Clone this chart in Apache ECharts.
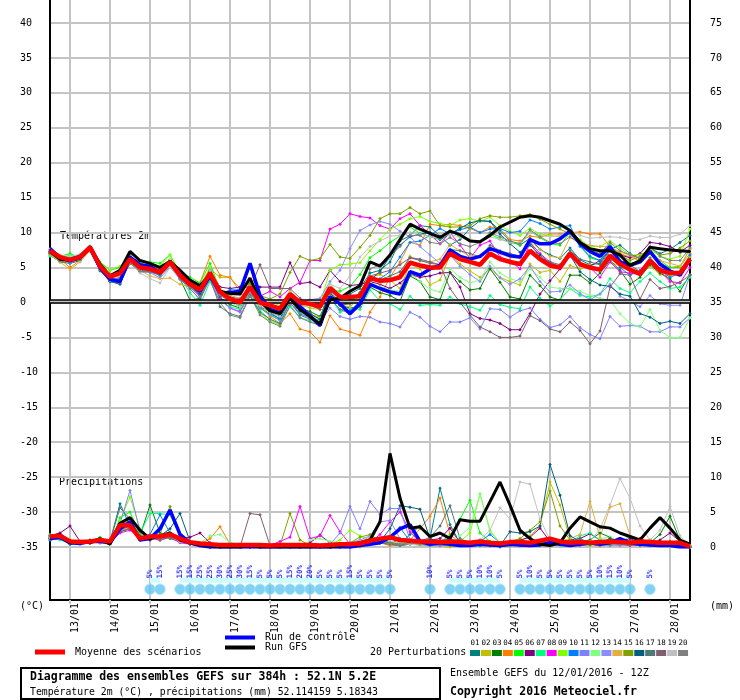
<!DOCTYPE html>
<html><head><meta charset="utf-8">
<script src="https://cdn.jsdelivr.net/npm/echarts@6/dist/echarts.min.js"></script>
<style>html,body{margin:0;padding:0;background:#fff}#c{width:740px;height:700px}</style>
</head><body><div id="c"></div>
<script>
// ---- time axis: 6-hourly steps from 12/01 12Z to 28/01 12Z (384h)
const startDay = 12, startHour = 12, stepH = 6, nSteps = 65;
const cats = [];
for (let k = 0; k < nSteps; k++) { const h = startHour + k * stepH; cats.push(String(startDay + Math.floor(h / 24)).padStart(2, '0') + '/01'); }

// ---- temperature 2m (°C)
const tMean = [7.4,6.5,6.1,6.5,7.9,5.2,3.7,4.2, 6.2,5.0,4.8,4.3,5.8,3.9,2.6,1.8, 4.2,1.5,0.5,0.0,2.2,0.0,-0.4,-0.9, 1.2,0.0,-0.2,-0.6,2.1,0.8,0.8,0.9, 3.5,3.1,3.2,3.6,5.7,5.3,5.0,5.0, 7.0,6.2,5.8,5.4,7.0,6.2,5.8,5.5, 7.4,6.2,5.3,5.0,7.0,5.5,5.0,4.7, 6.7,5.5,4.7,4.1,6.0,4.6,4.2,4.2, 6.2];
const tControl = [7.7,6.4,6.0,6.4,7.8,5.0,3.3,3.0, 6.5,5.4,5.2,4.2,5.8,4.0,2.8,1.6, 3.8,1.4,1.4,1.6,5.6,1.0,-1.0,-1.5, 1.0,-0.6,-1.9,-3.3,0.8,-0.2,-1.6,-0.2, 2.6,2.0,1.5,1.2,4.4,3.9,4.8,5.3, 7.5,6.6,6.2,6.6,7.7,7.2,6.7,6.5, 9.0,8.4,8.4,9.1,10.2,8.4,7.3,6.6, 8.0,5.8,5.3,5.8,7.3,5.5,4.5,3.9, 6.2];
const tGFS = [7.3,6.2,6.1,6.6,8.0,5.5,3.8,4.6, 7.3,6.0,5.6,5.0,5.9,4.6,3.2,2.4, 4.0,1.6,1.3,1.2,3.5,0.2,-1.2,-1.6, 0.6,-1.0,-2.0,-3.1,0.4,0.6,1.6,2.4, 5.8,5.2,6.8,9.0,11.2,10.5,9.9,9.3, 10.2,9.7,8.8,8.7,9.6,10.8,11.5,12.2, 12.4,12.2,11.7,11.2,10.3,8.6,7.7,7.4, 7.4,6.8,5.3,6.0,7.9,7.7,7.5,7.4, 7.3];
const t01 = [7.0,6.0,6.3,6.6,7.6,4.5,3.3,3.5, 6.0,5.2,5.0,4.0,6.0,3.6,2.2,1.0, 4.4,1.0,0.2,-0.5,2.8,-0.6,-1.3,-2.0, 0.8,-1.0,-1.6,-2.4,2.0,0.5,1.2,2.0, 4.2,4.6,5.8,8.8,9.6,11.0,10.8,9.5, 8.2,9.0,10.6,11.7,11.6,10.3,8.8,8.2, 9.2,7.6,6.8,6.3,7.8,6.1,5.4,5.6, 7.6,8.2,7.0,6.2,7.8,7.0,7.6,8.6, 9.6];
const t02 = [7.2,6.3,5.9,6.3,7.5,5.0,3.6,3.9, 5.8,4.6,4.5,3.8,5.2,4.2,3.0,2.2, 4.8,3.6,3.6,2.0,3.0,0.8,0.2,-0.5, 1.6,-0.3,-0.8,-1.0,1.0,0.0,-0.2,1.0, 3.6,4.0,3.2,2.0,5.5,4.8,2.5,3.2, 6.8,5.5,4.5,3.6,4.8,3.6,3.0,2.5, 5.5,4.3,4.6,3.0,5.3,4.8,5.4,4.5, 5.8,5.2,4.6,4.5,5.2,4.0,3.8,4.4, 6.5];
const t03 = [6.8,5.8,5.6,6.0,7.4,4.8,3.0,3.2, 5.6,4.8,4.5,4.0,5.6,3.4,0.3,0.6, 3.6,0.7,-0.3,-0.8,1.6,-0.8,-1.6,-2.3, 0.8,-0.8,-1.3,-2.0,1.4,-0.4,-0.8,-0.6, 2.2,1.4,1.0,0.2,3.8,3.0,0.8,0.4, 4.3,3.0,1.8,2.0,4.8,2.9,0.8,0.5, 3.9,2.4,0.8,0.3,3.9,3.9,2.8,4.2, 6.0,4.6,2.6,3.6,5.4,4.2,3.4,1.6, 4.0];
const t04 = [7.3,6.2,5.0,6.0,7.5,5.2,3.2,2.8, 5.8,4.8,4.4,4.2,5.6,4.0,3.2,2.8, 6.6,3.9,3.6,1.6,3.2,-0.5,-2.0,-3.0, -1.6,-3.8,-4.2,-5.7,-1.9,-3.8,-4.2,-4.7, -1.4,0.8,3.6,5.8,8.6,8.2,11.2,11.0, 11.2,11.0,10.6,10.0,10.8,10.6,9.0,8.8, 9.5,9.3,9.8,9.8,10.0,10.1,9.8,9.8, 8.0,7.0,6.5,6.0,7.0,5.5,5.0,5.2, 7.0];
const t05 = [7.0,6.6,7.0,6.4,7.6,5.8,4.6,5.0, 6.6,5.6,5.8,5.6,6.8,4.3,3.6,2.8, 5.6,1.8,0.4,-0.4,1.5,-0.8,-1.7,-2.5, 0.9,-1.4,-2.0,-2.6,1.8,1.6,2.3,4.0, 6.4,7.4,8.6,9.5,10.8,9.9,9.4,9.0, 10.3,9.4,9.0,8.6,9.8,9.1,8.6,8.3, 10.2,9.3,8.4,8.2,10.0,8.2,6.4,6.0, 8.3,6.6,5.6,5.8,7.4,6.0,5.0,5.0, 7.8];
const t06 = [7.1,6.0,5.8,6.5,7.9,5.4,3.9,4.6, 6.4,5.5,5.2,4.6,6.1,4.0,2.4,1.6, 4.6,2.2,2.0,2.2,2.2,2.2,2.2,2.2, 5.7,2.7,2.9,2.2,4.6,3.0,2.4,2.6, 3.0,2.6,2.0,2.8,4.0,3.6,3.8,4.2, 4.3,2.2,-1.6,-2.3,-2.5,-3.0,-3.9,-3.9, -1.6,1.2,3.1,4.8,6.8,5.6,5.2,6.0, 7.5,6.8,6.4,7.0,8.6,8.4,8.0,7.2, 8.2];
const t07 = [6.6,6.2,6.8,6.2,7.4,5.0,3.4,4.0, 6.6,5.2,4.8,4.0,5.6,3.8,1.4,-0.4, 3.0,0.2,-0.6,-1.0,1.2,-1.2,-2.4,-3.2, -0.6,-2.2,-2.6,-3.3,0.8,-1.4,-0.8,-1.0, 1.8,0.2,-0.2,-1.0,0.9,-0.4,-0.3,-0.4, 0.8,-0.2,-0.6,-1.1,1.0,-0.3,-0.7,-0.9, 2.2,0.6,-0.5,0.4,2.0,1.0,0.8,1.2, 3.4,2.0,1.4,3.0,4.2,3.0,2.0,2.2, 3.6];
const t08 = [7.4,6.3,6.0,6.7,7.8,5.4,4.0,4.0, 6.8,5.3,4.6,4.6,5.9,3.6,2.6,1.0, 4.0,0.6,-0.8,-1.3,1.2,0.9,1.6,0.8, 2.0,2.9,6.0,6.0,10.5,11.2,12.7,12.3, 12.1,11.0,10.5,12.0,12.7,11.0,9.8,8.4, 10.0,8.2,6.3,8.2,8.8,6.5,6.0,4.8, 8.6,7.0,5.8,5.0,6.6,5.3,5.0,3.6, 5.8,4.4,4.2,4.0,5.7,4.5,3.0,2.8, 5.0];
const t09 = [6.9,6.4,6.6,6.0,7.4,5.6,4.6,5.2, 6.5,5.8,5.6,5.2,6.8,4.0,3.2,2.4, 5.0,2.0,0.6,-0.6,1.0,-1.5,-2.7,-3.2, 0.3,-0.8,-0.4,-0.2,4.6,5.4,5.5,5.7, 7.4,9.0,10.5,11.2,12.0,12.3,11.6,11.3, 11.0,11.8,12.0,11.6,12.2,11.0,10.2,9.6, 10.6,9.8,9.6,9.4,10.0,9.0,8.0,8.0, 8.8,7.8,6.8,6.8,7.6,6.6,6.2,6.6, 10.5];
const t10 = [7.6,6.6,6.2,6.0,7.7,5.0,3.0,2.8, 5.8,4.6,4.4,3.9,5.3,3.6,2.4,1.4, 3.9,1.2,1.8,1.8,5.4,0.6,-1.4,-2.4, 0.4,-1.6,-2.2,-3.0,0.6,-1.0,-1.2,0.2, 3.0,3.4,4.4,6.5,8.6,8.8,9.6,10.6, 9.8,10.4,10.8,10.0,10.5,10.6,10.0,10.2, 11.8,11.3,10.5,10.8,11.0,8.0,6.6,6.0, 7.6,5.0,3.9,4.6,6.2,4.6,3.6,4.2, 6.8];
const t11 = [7.2,6.1,5.6,6.2,7.6,4.8,3.2,3.6, 5.9,4.4,4.3,3.5,5.1,3.3,2.2,0.8, 3.5,0.4,-0.8,-1.4,1.4,-0.8,-1.8,-2.6, 0.0,-1.6,-2.2,-2.8,-0.8,-2.0,-2.4,-2.0, -2.1,-2.8,-3.0,-3.5,-1.4,-2.1,-3.4,-4.2, -2.8,-2.8,-2.2,-3.8,-0.9,-1.0,-2.1,-1.2, -0.8,-2.4,-3.6,-3.2,-2.0,-3.6,-4.6,-5.2, -2.0,-3.4,-3.3,-3.4,-4.2,-4.2,-3.5,-3.5, -2.2];
const t12 = [6.9,6.0,6.4,6.8,7.6,5.6,4.0,4.6, 6.0,5.0,4.7,4.4,6.2,4.2,3.0,2.0, 4.2,1.8,0.8,0.0,2.4,0.2,-0.8,-1.6, 1.4,0.0,0.2,0.0,2.8,1.0,0.6,0.4, 2.9,2.2,1.8,1.6,4.2,3.0,1.9,1.5, 4.8,3.6,2.8,3.2,5.8,4.2,3.4,3.0, 4.8,3.6,2.2,2.0,2.0,1.6,1.0,0.6, 0.3,-1.6,-3.0,-3.5,-1.0,-4.0,-5.0,-5.0, -2.2];
const t13 = [7.5,6.7,6.2,6.3,8.0,5.3,3.6,3.9, 6.6,4.9,4.6,4.2,5.4,3.8,2.6,1.6, 4.2,1.6,0.4,-0.6,3.2,0.4,-0.8,-1.2, 0.6,0.0,0.4,0.6,3.0,4.6,7.7,10.3, 11.1,11.6,11.2,10.2,9.4,8.0,6.8,5.6, 6.8,5.2,4.0,3.0,5.2,3.5,2.6,3.4, 5.2,3.0,1.5,1.6,2.5,1.3,0.4,1.2, 2.6,0.9,0.2,-0.6,1.0,-0.2,-0.4,-0.4, 3.9];
const t14 = [6.8,5.8,4.7,5.8,7.4,5.0,3.4,3.8, 5.6,4.6,3.8,3.4,3.5,2.6,2.2,1.6, 3.6,1.9,1.0,0.6,2.4,-0.2,-1.0,-1.3, 0.8,-0.9,-1.6,-2.2,1.0,-0.4,-0.6,0.6, 3.8,2.8,3.4,4.0,6.6,6.0,5.8,6.2, 8.3,7.4,6.6,6.6,8.0,7.0,6.4,6.4, 8.8,7.6,6.6,6.4,9.3,8.5,8.2,8.0, 8.0,7.2,6.8,6.0,7.2,6.0,5.6,5.2, 7.6];
const t15 = [7.2,6.1,6.2,6.4,7.7,5.4,3.6,4.4, 6.1,5.4,5.0,4.6,5.7,4.1,2.8,2.0, 4.3,1.4,0.4,0.0,2.6,1.0,0.5,1.2, 4.3,6.6,6.0,6.3,8.3,6.5,6.3,7.9, 9.6,12.0,12.7,12.7,13.6,12.7,13.1,11.0, 10.8,10.8,11.0,12.0,12.4,12.2,12.2,12.4, 12.6,11.9,11.2,10.5,9.8,8.8,7.4,7.0, 8.0,6.8,6.0,6.6,7.8,6.8,7.0,7.8, 8.8];
const t16 = [7.3,6.4,6.4,6.8,7.8,5.0,3.0,2.6, 6.0,5.2,5.0,4.4,5.8,3.8,2.4,1.2, 4.2,1.4,1.6,1.2,5.2,0.4,-1.0,-1.8, 0.4,-1.2,-1.6,-2.4,1.4,-0.4,0.0,1.4, 3.2,4.4,6.6,8.2,9.4,9.8,10.0,9.0, 9.8,10.6,11.4,11.7,11.6,9.8,8.4,7.2, 8.2,6.8,5.6,5.0,6.8,4.4,3.3,2.5, 2.3,1.2,0.9,-1.6,-2.1,-3.0,-2.7,-3.0, -1.6];
const t17 = [7.0,6.0,5.8,6.2,7.6,4.6,3.0,2.8, 5.6,4.4,4.4,4.0,5.4,3.4,2.0,0.4, 3.4,-0.6,-1.6,-2.0,1.0,-1.4,-2.4,-3.0, 0.0,-1.8,-2.4,-2.8,1.2,-0.4,-0.2,0.4, 3.6,3.2,3.8,4.4,6.4,6.0,5.6,5.4, 7.6,7.4,7.0,6.5,8.2,7.4,7.0,6.6, 8.6,6.4,5.8,5.4,7.4,6.2,5.8,5.4, 7.4,6.0,5.4,4.4,6.4,4.9,4.4,4.0, 6.0];
const t18 = [7.2,6.2,6.0,6.4,7.8,5.4,3.8,4.2, 6.6,5.4,4.9,4.2,5.6,4.0,2.6,1.8, 4.4,1.6,0.8,0.5,2.0,5.4,2.0,2.0, 2.0,0.6,-0.4,-1.0,1.6,0.0,0.4,1.4, 3.8,4.2,4.6,5.4,6.4,6.2,5.8,5.4, 2.0,0.0,-1.8,-3.5,-4.2,-5.0,-5.0,-4.8, -1.9,-2.6,-3.8,-4.2,-2.8,-4.0,-5.9,-4.1, 2.2,4.1,3.9,0.5,3.3,2.0,2.3,2.9, 3.9];
const t19 = [7.6,6.8,6.6,6.9,8.1,5.2,3.6,4.0, 5.8,4.2,3.4,2.8,5.0,3.6,2.8,2.2, 4.6,1.2,0.0,-0.6,1.8,-0.4,-1.4,-2.0, 0.6,-0.8,-0.4,-0.4,2.6,2.0,3.8,6.5, 8.0,8.8,9.5,9.6,10.0,9.8,9.4,9.2, 9.8,9.3,9.0,8.6,9.4,9.0,8.6,8.6, 10.0,9.6,9.4,9.6,10.3,9.6,9.2,9.3, 9.4,9.3,9.0,9.0,9.5,9.3,9.3,9.8, 11.0];
const t20 = [7.1,6.2,6.1,6.6,7.9,5.2,3.1,3.4, 5.7,4.5,4.6,4.1,5.5,3.5,2.4,0.9, 3.2,0.0,-1.8,-2.2,0.9,-1.8,-2.8,-3.4, -0.4,-2.2,-2.8,-3.3,0.6,-1.0,-1.6,-0.6, 4.8,5.4,6.6,8.0,9.6,9.6,8.6,8.4, 9.3,8.4,8.0,8.6,10.0,9.4,8.8,8.4, 10.4,9.4,8.6,8.4,9.4,8.4,7.4,7.0, 8.6,7.4,6.8,6.4,8.0,6.6,6.0,6.0, 7.8];

// ---- precipitation (mm per 6h)
const pMean = [1.5,1.6,0.8,0.7,0.8,1.0,0.8,3.1, 3.1,1.2,1.5,1.5,1.8,1.2,0.7,0.5, 0.4,0.3,0.3,0.3,0.3,0.3,0.2,0.3, 0.3,0.3,0.3,0.2,0.3,0.4,0.4,0.5, 0.9,1.2,1.4,1.0,0.9,0.8,0.8,0.7, 0.8,0.7,0.6,0.8,0.6,0.5,0.7,0.7, 0.6,0.9,1.2,0.8,0.6,0.7,0.6,0.7, 0.8,0.7,0.6,0.8,0.7,0.6,0.6,0.6, 0.1];
const pControl = [1.2,1.4,0.6,0.5,0.8,0.8,0.6,2.6, 3.6,1.0,1.2,2.6,5.3,1.8,0.6,0.2, 0.0,0.0,0.0,0.0,0.0,0.0,0.0,0.0, 0.0,0.0,0.0,0.0,0.0,0.0,0.0,0.2, 0.4,0.6,1.4,2.6,3.2,0.8,0.4,0.6, 0.4,0.2,0.2,0.4,0.3,0.2,0.4,0.3, 0.2,0.3,0.6,0.4,0.2,0.4,0.6,0.4, 0.6,1.2,0.6,0.4,0.3,0.2,0.2,0.0, 0.0];
const pGFS = [1.4,1.8,0.6,0.8,0.6,1.2,0.4,3.4, 4.2,2.4,1.2,1.6,2.0,1.0,0.6,0.3, 0.2,0.0,0.0,0.0,0.2,0.0,0.0,0.0, 0.0,0.0,0.0,0.0,0.0,0.2,0.4,0.6, 1.0,3.6,13.4,7.0,2.7,2.9,1.5,2.0, 1.2,3.9,3.7,3.7,6.5,9.3,6.0,2.4, 1.2,0.4,0.2,0.6,2.7,4.3,3.6,2.9, 2.7,2.0,1.5,1.0,2.7,4.2,2.7,1.0, 0.4];
const p01 = [1.2,1.8,0.6,0.8,1.0,0.6,0.8,6.2, 3.0,1.0,1.6,1.2,1.4,0.8,0.4,0.2, 0.2,0.0,0.0,0.0,0.0,0.0,0.0,0.0, 0.0,0.0,0.0,0.2,0.0,0.0,0.4,0.6, 1.2,0.8,0.6,0.4,1.8,3.0,1.2,8.4, 3.2,0.6,0.4,0.8,0.2,0.0,0.2,0.6, 0.4,0.2,0.6,0.3,0.2,0.2,0.4,0.6, 1.0,0.8,0.4,0.2,0.6,0.4,0.8,0.6, 0.0];
const p02 = [1.6,1.4,0.8,0.6,0.6,1.2,0.4,2.8, 3.4,1.2,1.4,1.0,1.6,1.4,0.8,0.6, 0.4,0.2,0.0,0.0,0.0,0.0,0.0,0.0, 0.0,0.0,0.0,0.0,0.0,0.2,0.0,0.0, 0.6,1.2,0.8,0.4,0.6,0.2,0.4,0.2, 0.0,0.2,0.6,0.4,0.2,0.4,0.6,0.8, 1.6,3.0,9.3,6.0,1.2,0.6,0.4,0.2, 0.4,0.6,0.8,0.4,0.2,0.6,0.4,0.2, 0.0];
const p03 = [1.0,1.2,0.4,0.6,0.6,0.8,1.0,2.2, 2.6,1.6,6.0,2.0,1.2,0.8,0.4,0.3, 0.0,0.0,0.0,0.0,0.0,0.0,0.0,0.0, 0.0,0.0,0.0,0.0,0.0,0.0,0.2,0.4, 0.8,0.6,0.4,1.2,0.8,0.6,0.2,0.2, 0.4,0.2,0.6,1.0,0.8,0.2,0.4,0.2, 0.2,0.4,0.6,0.2,0.4,0.8,1.0,2.0, 1.4,0.6,0.8,1.2,0.6,1.8,4.4,1.0, 0.2];
const p04 = [1.4,1.6,1.0,0.8,0.6,0.8,0.6,3.0, 2.6,1.0,1.4,1.2,1.4,1.0,0.6,0.4, 1.2,2.9,0.4,0.0,0.0,0.0,0.0,0.0, 0.0,0.0,0.0,0.0,0.0,0.0,0.2,0.2, 0.4,0.6,0.2,0.4,1.0,2.6,4.4,7.0, 1.8,0.6,0.4,0.2,0.4,0.6,0.2,0.4, 0.2,0.4,0.2,0.6,0.4,0.2,0.6,0.4, 1.2,0.6,0.4,0.2,0.6,0.8,0.4,0.2, 0.0];
const p05 = [1.8,1.6,0.8,0.6,0.8,1.4,0.4,4.2, 5.0,1.8,1.0,1.4,2.0,1.0,0.6,0.2, 0.0,0.0,0.0,0.0,0.0,0.0,0.0,0.0, 0.0,0.0,0.0,0.0,0.2,0.4,0.2,0.4, 1.6,1.0,0.4,0.6,0.8,0.4,0.6,0.8, 1.6,4.0,6.7,2.0,0.8,0.4,0.2,0.2, 0.4,0.2,0.6,0.4,0.2,0.4,0.2,0.6, 0.4,0.6,0.4,1.0,0.6,0.4,0.2,0.2, 0.0];
const p06 = [1.6,2.0,3.0,0.8,0.6,1.0,0.6,2.4, 2.8,1.2,1.0,1.4,1.6,1.2,1.4,2.0, 0.6,0.0,0.0,0.0,0.0,0.0,0.0,0.0, 0.0,0.0,0.6,1.7,0.6,0.2,0.0,0.2, 0.4,0.6,0.4,0.2,0.6,0.8,1.0,1.2, 2.7,0.6,0.4,0.2,0.4,0.2,0.6,1.0, 1.4,2.7,0.8,0.6,1.0,1.2,1.9,1.0, 0.6,0.8,1.2,0.6,0.4,1.0,2.0,0.8, 0.0];
const p07 = [1.2,1.0,0.6,0.4,0.8,0.6,0.8,2.6, 3.2,2.0,4.8,4.8,4.6,1.6,0.4,0.2, 0.0,0.2,0.6,0.4,0.0,0.0,0.0,0.0, 0.0,0.0,0.0,0.0,0.0,0.2,0.4,0.6, 0.8,0.6,0.4,0.2,0.4,0.6,0.2,0.4, 0.8,0.6,0.4,0.2,0.6,0.4,0.8,0.6, 0.4,0.6,1.2,0.8,0.6,1.6,2.0,1.0, 0.8,0.6,1.6,0.6,0.4,0.2,0.6,0.2, 0.0];
const p08 = [1.4,1.2,0.6,0.8,0.6,1.0,0.6,2.0, 2.4,1.4,1.2,1.0,1.4,0.6,0.4,0.2, 0.0,0.0,0.0,0.0,0.0,0.0,0.2,0.8, 1.4,5.8,1.2,1.6,4.5,2.2,0.4,0.2, 0.6,1.8,3.6,5.0,2.2,0.6,0.4,0.2, 0.4,0.2,0.6,0.4,0.2,0.4,0.6,0.4, 0.2,0.6,0.4,0.2,0.4,0.6,0.4,0.2, 0.6,0.4,0.2,0.4,0.6,0.2,0.4,0.2, 0.0];
const p09 = [1.6,1.4,0.8,0.6,0.8,1.2,0.6,3.8, 7.2,2.6,1.2,1.4,1.8,1.0,0.6,0.4, 0.2,0.0,0.0,0.0,0.0,0.0,0.0,0.0, 0.0,0.0,0.0,0.0,0.4,1.0,2.4,1.6, 1.0,0.6,0.8,0.4,0.6,0.4,0.2,0.4, 0.6,0.8,2.0,7.6,2.4,0.6,0.4,0.2, 0.4,0.2,0.4,0.6,0.2,0.4,0.6,0.8, 1.0,0.6,0.4,0.6,1.0,0.6,0.4,1.2, 0.2];
const p10 = [1.0,1.2,0.4,0.6,0.8,0.6,0.8,2.4, 3.0,1.2,1.8,4.6,2.0,1.4,0.4,0.2, 0.0,0.0,0.0,0.0,0.0,0.0,0.0,0.0, 0.0,0.0,0.0,0.0,0.0,0.0,0.0,0.2, 0.4,0.8,1.2,2.8,0.8,0.6,0.4,0.8, 1.2,0.6,0.4,0.8,1.8,0.6,0.4,0.2, 0.4,0.8,1.0,0.6,0.4,0.2,0.6,0.4, 0.8,1.2,0.6,0.4,0.2,0.4,0.6,0.2, 0.0];
const p11 = [1.4,1.6,0.8,0.6,0.6,1.0,0.6,3.4, 8.1,2.2,1.2,1.0,1.4,0.8,0.4,0.2, 0.0,0.0,0.0,0.0,0.0,0.0,0.0,0.0, 0.0,0.0,0.0,0.0,0.4,2.0,5.8,2.6, 6.5,4.7,5.5,5.5,1.0,0.6,0.4,0.2, 0.4,0.6,0.2,0.4,0.2,0.4,0.6,0.4, 0.2,0.4,0.2,0.6,0.4,0.2,0.4,0.6, 0.4,0.2,0.6,0.4,0.2,0.4,0.6,0.2, 0.0];
const p12 = [1.2,1.4,0.6,0.8,0.6,0.8,0.4,2.8, 3.2,1.6,1.4,1.2,1.6,0.8,0.6,0.6, 1.6,1.8,0.6,0.0,0.0,0.0,0.0,0.0, 0.0,0.0,1.0,1.2,0.8,0.6,0.4,0.8, 1.2,0.8,0.4,0.6,0.8,0.4,0.6,0.8, 0.6,1.6,2.8,7.6,2.2,0.6,0.4,0.2, 0.4,0.6,0.4,0.2,0.8,0.6,0.4,1.2, 1.4,0.8,1.6,0.6,0.4,0.6,0.4,0.2, 0.0];
const p13 = [1.6,1.4,0.8,0.6,0.8,1.0,0.6,3.0, 3.6,1.4,1.2,1.6,1.8,1.0,0.6,0.2, 0.0,0.0,0.0,0.0,0.0,0.0,0.0,0.0, 0.0,0.0,0.0,0.0,0.0,0.4,0.6,1.0, 1.6,3.6,3.8,1.2,0.6,0.4,0.2,0.4, 0.6,0.4,0.2,0.4,0.6,0.4,0.2,0.4, 0.6,0.4,0.2,0.6,0.4,0.2,0.4,0.6, 0.4,0.2,0.4,0.6,0.2,0.4,0.2,0.2, 0.0];
const p14 = [1.2,1.2,0.6,0.6,0.8,0.6,0.8,2.4, 2.8,1.2,1.4,1.2,1.8,0.8,0.6,0.4, 0.0,0.0,0.0,0.0,0.0,0.0,0.0,0.0, 0.0,0.0,0.0,0.0,0.0,0.0,0.2,0.4, 0.8,0.6,0.4,0.8,1.0,0.6,0.4,0.6, 0.4,0.2,0.6,0.4,0.2,0.4,0.6,0.4, 0.2,0.4,0.6,0.8,1.2,1.8,6.5,1.4, 5.7,6.2,1.6,0.8,0.4,0.6,0.4,0.2, 0.0];
const p15 = [1.4,1.6,0.6,0.8,0.6,0.8,0.6,2.8, 3.6,1.6,1.4,1.8,5.8,1.4,0.6,0.2, 0.0,0.0,0.0,0.0,0.0,0.0,0.0,0.2, 4.8,1.0,0.2,0.0,0.0,0.4,0.6,1.4, 1.8,0.8,0.6,0.4,0.6,0.4,0.6,0.4, 0.2,0.4,0.6,0.4,0.2,0.6,0.8,1.2, 2.4,3.6,8.0,3.0,1.0,0.6,0.4,0.2, 0.4,0.6,0.8,0.6,1.0,0.6,0.8,0.4, 0.0];
const p16 = [1.2,1.4,0.6,0.6,0.8,0.8,0.6,2.8, 3.2,1.4,1.6,1.6,2.6,4.8,0.8,0.2, 0.0,0.0,0.0,0.0,0.0,0.0,0.0,0.0, 0.0,0.0,0.0,0.0,0.0,0.2,0.4,0.6, 1.0,0.8,2.6,5.9,5.7,5.4,1.2,0.6, 0.4,0.2,0.6,0.8,0.4,0.2,2.2,2.0, 2.2,3.0,11.8,7.4,1.6,0.8,0.4,0.6, 1.2,0.8,0.6,0.4,0.6,0.8,0.4,0.2, 0.0];
const p17 = [1.4,1.2,0.8,0.6,0.6,1.0,0.8,5.6, 4.0,1.6,1.4,1.2,1.6,1.0,0.4,0.2, 0.0,0.0,0.0,0.0,0.0,0.0,0.0,0.0, 0.0,0.0,0.0,0.0,0.0,0.0,0.2,0.4, 0.6,0.8,0.6,0.4,0.6,0.8,1.4,3.0, 5.9,1.2,0.6,0.4,0.2,0.4,0.6,0.4, 0.2,0.4,0.6,0.4,0.8,1.2,0.6,0.4, 0.6,0.4,0.2,0.6,0.4,0.2,0.4,0.6, 0.0];
const p18 = [1.2,1.4,0.6,0.8,0.6,0.8,0.6,2.2, 2.6,1.2,1.4,1.0,1.4,1.2,0.6,0.2, 0.0,0.0,0.0,0.0,4.8,4.6,0.2,0.0, 0.0,0.0,0.0,0.0,0.0,0.2,0.4,0.6, 0.8,0.6,0.4,0.2,0.4,0.6,0.8,0.6, 0.4,0.2,0.6,0.4,0.2,0.4,0.6,0.8, 0.6,0.4,0.2,0.6,0.4,0.8,0.6,0.4, 0.6,0.8,0.4,0.2,0.6,0.4,0.2,0.2, 0.0];
const p19 = [1.4,1.4,0.8,0.6,0.8,0.8,0.6,2.6, 3.2,1.2,1.6,1.4,1.8,1.0,0.6,0.2, 0.0,0.0,0.0,0.0,0.0,0.0,0.0,0.0, 0.0,0.0,0.0,0.0,0.0,0.2,0.4,0.8, 1.4,1.0,0.8,0.6,0.4,0.2,0.4,0.6, 0.8,0.4,0.6,1.0,2.4,5.6,4.0,9.3, 9.0,4.0,1.0,0.6,0.4,0.6,0.8,2.6, 6.0,9.8,7.0,3.0,1.0,2.4,5.8,1.6, 0.2];
const p20 = [1.6,1.4,0.8,0.6,0.6,1.0,0.8,3.2, 3.8,1.4,1.2,1.4,1.6,1.0,0.6,0.4, 0.2,0.0,0.0,0.0,0.0,0.0,0.0,0.0, 0.0,0.0,0.0,0.0,0.0,0.2,0.4,0.6, 1.0,1.2,0.6,0.4,0.6,0.4,0.2,0.4, 0.6,0.8,0.4,0.2,0.4,0.6,0.4,0.2, 0.4,0.6,0.8,0.4,0.2,0.4,0.6,0.4, 0.2,0.4,0.6,0.4,0.2,0.4,0.6,0.4, 0.0];

// ---- snow probability (hours from start, %)
const snowHours = [60,66, 78,84,90,96,102,108,114,120,126,132,138,144,150,156,162,168,174,180,186,192,198,204, 228, 240,246,252,258,264,270, 282,288,294,300,306,312,318,324,330,336,342,348, 360];
const snowPct   = [5,15, 15,15,25,25,30,25,30,15,5,5,5,15,20,20,5,5,5,15,5,5,5,5, 10, 5,5,5,10,10,5, 5,10,5,5,5,5,5,5,10,15,10,5, 5];

const tempTicksMin = -35, tempTicksMax = 40, precipMax = 75;
const pertNames = ['01','02','03','04','05','06','07','08','09','10','11','12','13','14','15','16','17','18','19','20'];
const pertTemps = [t01,t02,t03,t04,t05,t06,t07,t08,t09,t10,t11,t12,t13,t14,t15,t16,t17,t18,t19,t20];
const pertPrecs = [p01,p02,p03,p04,p05,p06,p07,p08,p09,p10,p11,p12,p13,p14,p15,p16,p17,p18,p19,p20];
const pertColors = ['#008080','#c0c000','#008000','#ff8000','#00ff00','#800080','#00ff80','#ff00ff','#80ff00','#0080ff','#8080ff','#80ff80','#8c8cff','#e0b040','#80a000','#006080','#507878','#806070','#c0c0c0','#808080'];

const FONT = '"DejaVu Sans Mono", monospace';
const GRID = '#c4c4c4';
const dayTick = (i) => i % 4 === 2;

const series = [];
// zero double line
series.push({type:'line', xAxisIndex:0, yAxisIndex:0, data: cats.map(() => null), silent:true, z:1,
  markLine:{silent:true, symbol:'none', label:{show:false}, animation:false,
    data:[{yAxis:0.2, lineStyle:{color:'#000', width:4.5, type:'solid'}},
          {yAxis:0.2, lineStyle:{color:GRID, width:1.3, type:'solid'}}]}});
pertTemps.forEach((d, k) => series.push({name:'T'+pertNames[k], type:'line', xAxisIndex:0, yAxisIndex:0, data:d, z:3,
  symbol:'diamond', symbolSize:3.5, showSymbol:true, silent:true,
  lineStyle:{width:1, color:pertColors[k]}, itemStyle:{color:pertColors[k]}}));
pertPrecs.forEach((d, k) => series.push({name:'P'+pertNames[k], type:'line', xAxisIndex:0, yAxisIndex:1, data:d, z:3,
  symbol:'diamond', symbolSize:3.5, showSymbol:true, silent:true,
  lineStyle:{width:1, color:pertColors[k]}, itemStyle:{color:pertColors[k]}}));
[[tControl,pControl,'#0000ff',3.5,5],[tGFS,pGFS,'#000000',3,6],[tMean,pMean,'#ff0000',4.5,7]].forEach(([t,p,c,w,z]) => {
  series.push({type:'line', xAxisIndex:0, yAxisIndex:0, data:t, z:z, showSymbol:false, silent:true, lineStyle:{width:w, color:c}, itemStyle:{color:c}});
  series.push({type:'line', xAxisIndex:0, yAxisIndex:1, data:p, z:z, showSymbol:false, silent:true, lineStyle:{width:w, color:c}, itemStyle:{color:c}});
});
// snow band + flakes
const band = cats.map(() => null);
snowHours.forEach(h => { band[h / stepH] = 3.3; });
series.push({type:'line', xAxisIndex:1, yAxisIndex:2, data:band, showSymbol:false, silent:true, z:2,
  lineStyle:{width:5, color:'#ccffff'}, connectNulls:false});
series.push({type:'scatter', xAxisIndex:1, yAxisIndex:2, silent:true, z:4,
  data: snowHours.map((h, k) => [h / stepH, 1.8, snowPct[k]]),
  symbol:'circle', symbolSize:10.5,
  itemStyle:{color:'#62c6f0', borderColor:'#a8e4ff', borderWidth:1},
  label:{show:true, position:'top', distance:5, rotate:90, align:'left', verticalAlign:'middle',
    formatter: p => p.value[2] + '%', color:'#0000ff', fontFamily:FONT, fontSize:7.5, fontWeight:'bold'}});

const txt = (x, y, s, size, bold, extra) => Object.assign({type:'text', x:x, y:y, silent:true,
  style:Object.assign({text:s, fill:'#000', font:(bold ? 'bold ' : '') + size + 'px ' + FONT, verticalAlign:'middle'}, extra || {})});
const graphic = [
  txt(60, 236.5, 'Températures 2m', 10),
  txt(59, 482, 'Précipitations', 10),
  txt(20, 606, '(°C)', 10),
  txt(710, 606, '(mm)', 10),
  {type:'line', silent:true, shape:{x1:35, y1:652, x2:65, y2:652}, style:{stroke:'#ff0000', lineWidth:5}},
  txt(75, 652, 'Moyenne des scénarios', 10),
  {type:'line', silent:true, shape:{x1:225, y1:637.5, x2:255, y2:637.5}, style:{stroke:'#0000ff', lineWidth:4}},
  txt(265, 637.5, 'Run de contrôle', 10),
  {type:'line', silent:true, shape:{x1:225, y1:647.5, x2:255, y2:647.5}, style:{stroke:'#000000', lineWidth:4}},
  txt(265, 647.5, 'Run GFS', 10),
  txt(370, 652, '20 Perturbations', 10),
  {type:'rect', silent:true, shape:{x:21, y:668, width:419, height:31}, style:{fill:'#fff', stroke:'#000', lineWidth:2}},
  txt(30, 677, 'Diagramme des ensembles GEFS sur 384h : 52.1N 5.2E', 11.5, true),
  txt(30, 692.5, 'Température 2m (°C) , précipitations (mm) 52.114159 5.18343', 9.8),
  txt(450, 673, 'Ensemble GEFS du 12/01/2016 - 12Z', 10),
  txt(450, 692.5, 'Copyright 2016 Meteociel.fr', 11.5, true)
];
pertColors.forEach((c, k) => {
  graphic.push({type:'rect', silent:true, shape:{x:470 + k * 10.95, y:650, width:10, height:6}, style:{fill:c}});
  graphic.push(txt(475 + k * 10.95, 643.5, pertNames[k], 7.5, false, {align:'center'}));
});

const chart = echarts.init(document.getElementById('c'), null, {renderer:'canvas'});
chart.setOption({
  animation:false,
  backgroundColor:'#fff',
  grid:[{left:50, right:50, top:23, bottom:153}, {left:50, right:50, top:0, bottom:100}],
  xAxis:[
    {type:'category', gridIndex:0, data:cats, boundaryGap:false, show:false},
    {type:'category', gridIndex:1, data:cats, boundaryGap:false,
      axisLine:{show:true, onZero:false, lineStyle:{color:'#000', width:2}},
      axisTick:{show:true, interval:dayTick, length:4, lineStyle:{color:GRID, width:2}},
      axisLabel:{interval:dayTick, rotate:90, verticalAlign:'top', margin:3, fontFamily:FONT, fontSize:10, color:'#000'},
      splitLine:{show:true, interval:dayTick, lineStyle:{color:GRID, width:2}}}
  ],
  yAxis:[
    {type:'value', gridIndex:0, min:tempTicksMin, max:tempTicksMax, interval:5, position:'left',
      axisLine:{show:false}, axisTick:{show:false},
      axisLabel:{align:'left', margin:30, fontFamily:FONT, fontSize:10, color:'#000'},
      splitLine:{show:true, lineStyle:{color:GRID, width:2}}},
    {type:'value', gridIndex:0, min:0, max:precipMax, interval:5, position:'right',
      axisLine:{show:false}, axisTick:{show:false},
      axisLabel:{align:'left', margin:20, fontFamily:FONT, fontSize:10, color:'#000'},
      splitLine:{show:false}},
    {type:'value', gridIndex:1, min:0, max:100, position:'left',
      axisLine:{show:true, onZero:false, lineStyle:{color:'#000', width:2}}, axisTick:{show:false}, axisLabel:{show:false}, splitLine:{show:false}},
    {type:'value', gridIndex:1, min:0, max:100, position:'right',
      axisLine:{show:true, onZero:false, lineStyle:{color:'#000', width:2}}, axisTick:{show:false}, axisLabel:{show:false}, splitLine:{show:false}}
  ],
  series: series,
  graphic: graphic
});
</script></body></html>
